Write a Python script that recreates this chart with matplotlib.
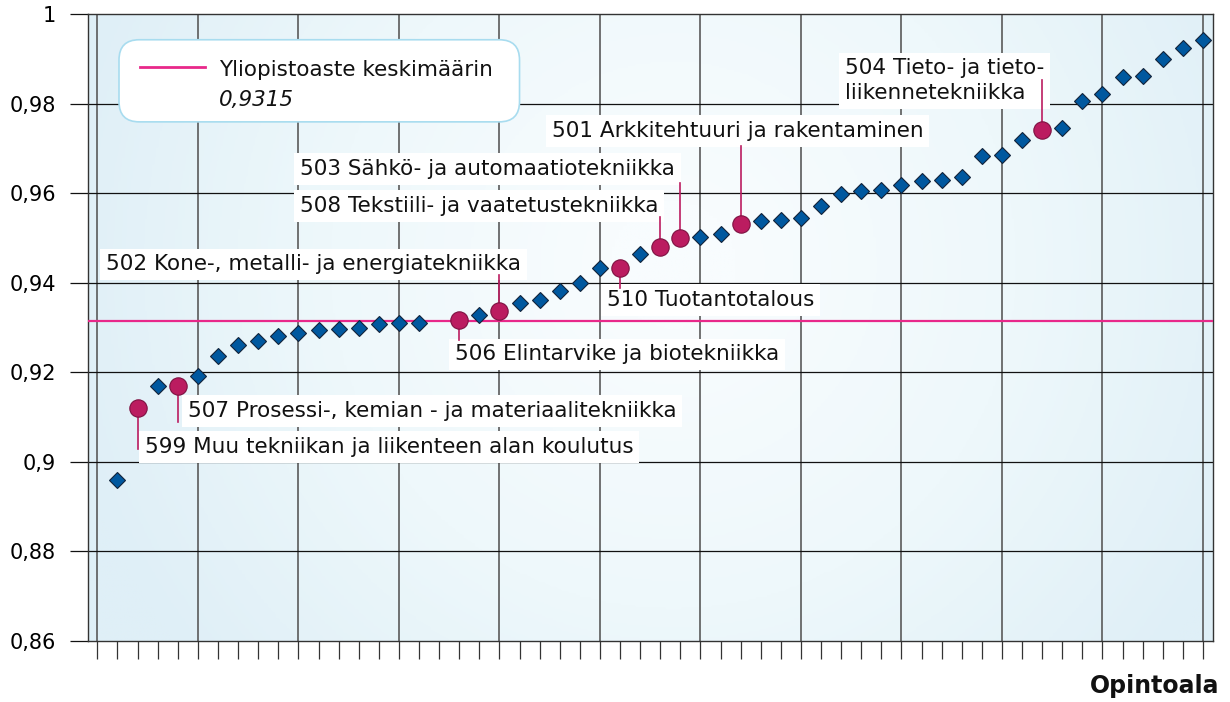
import numpy as np
import matplotlib
matplotlib.use("Agg")
import matplotlib.pyplot as plt
from matplotlib.patches import FancyBboxPatch
from matplotlib.lines import Line2D
from matplotlib.colors import LinearSegmentedColormap
from matplotlib.ticker import FuncFormatter

# Keskiarvot opintoaloittain (järjestetty), 17. paikka ilman arvoa
values = [0.896, 0.912, 0.917, 0.917, 0.9191, 0.9236, 0.926, 0.927, 0.9281, 0.9287,
          0.9294, 0.9297, 0.9298, 0.9307, 0.931, 0.9311, np.nan, 0.9317, 0.9328, 0.9336,
          0.9354, 0.9361, 0.9382, 0.9399, 0.9432, 0.9433, 0.9464, 0.948, 0.95, 0.9503,
          0.9508, 0.9532, 0.9537, 0.954, 0.9544, 0.9572, 0.9598, 0.9604, 0.9607, 0.9618,
          0.9628, 0.963, 0.9635, 0.9683, 0.9685, 0.9718, 0.9741, 0.9745, 0.9806, 0.9821,
          0.986, 0.9861, 0.9899, 0.9924, 0.9942]
mean_value = 0.9315
mean_label = "Yliopistoaste keskimäärin"

# Korostetut tekniikan alat (sijainti järjestyksessä)
hl_pos = [2, 4, 18, 20, 26, 28, 29, 32, 47]
hl_text = ["599 Muu tekniikan ja liikenteen alan koulutus",
           "507 Prosessi-, kemian - ja materiaalitekniikka",
           "506 Elintarvike ja biotekniikka",
           "502 Kone-, metalli- ja energiatekniikka",
           "510 Tuotantotalous",
           "508 Tekstiili- ja vaatetustekniikka",
           "503 Sähkö- ja automaatiotekniikka",
           "501 Arkkitehtuuri ja rakentaminen",
           "504 Tieto- ja tieto-\nliikennetekniikka"]
# tekstien paikat (x, y) ja johtoviivan loppupää
label_x = [2.36, 4.5, 17.8, 0.42, 25.35, 10.07, 10.07, 22.6, 37.2]
label_y = [0.9033, 0.9113, 0.924, 0.9441, 0.9361, 0.9571, 0.9654, 0.9739, 0.9851]
leader_end = [0.9028, 0.9088, 0.9272, 0.9417, 0.9388, 0.9546, 0.9622, 0.9705, 0.9853]

x = np.arange(1, len(values) + 1)
y = np.array(values)
is_hl = np.isin(x, hl_pos)

fig = plt.figure(figsize=(12.3, 7.02), dpi=100)
ax = fig.add_axes([0.0715, 0.087, 0.9147, 0.893])

# vaalea taustaliukuväri
gx, gy = np.meshgrid(np.linspace(0, 1, 300), np.linspace(0, 1, 300))
dist = np.sqrt(((gx - 0.52) * 1.8) ** 2 + (gy - 0.6) ** 2)
bg_cmap = LinearSegmentedColormap.from_list("bg", ["#f8fcfe", "#eef8fb", "#dfeff7"])
ax.imshow(dist, cmap=bg_cmap, extent=[0, 1, 0, 1], transform=ax.transAxes,
          aspect="auto", origin="lower", zorder=0, vmin=0.1, vmax=1.0)

ax.set_xlim(-0.47, 55.5)
ax.set_ylim(0.86, 1.0)

# ruudukko
ax.set_xticks(np.arange(0, 56, 1))
for gxv in np.arange(0, 56, 5):
    ax.axvline(gxv, color="#5a5a5a", lw=1.2, zorder=1)
for gyv in np.arange(0.88, 1.0, 0.02):
    ax.axhline(gyv, color="#111111", lw=0.9, zorder=1)

ax.axhline(mean_value, color="#e8288a", lw=1.6, zorder=3)

ax.plot(x[~is_hl], y[~is_hl], ls="none", marker="D", ms=8.5, mfc="#00589f",
        mec="#12233a", mew=0.8, zorder=5)
ax.plot(x[is_hl], y[is_hl], ls="none", marker="o", ms=12.5, mfc="#bb1c60",
        mec="#7d1141", mew=0.8, zorder=6)

for pos, txt, tx, ty, le in zip(hl_pos, hl_text, label_x, label_y, leader_end):
    ax.text(tx, ty, txt, fontsize=15.5, color="#111111", ha="left", va="center",
            linespacing=1.3,
            bbox=dict(boxstyle="square,pad=0.27", fc="white", ec="none"), zorder=4)
    ax.plot([pos, pos], [y[pos - 1], le], color="#bb1c60", lw=1.2, zorder=4.5)

# selite
legend_box = FancyBboxPatch((0.0276, 0.828), 0.356, 0.131,
                            boxstyle="round,pad=0,rounding_size=0.018",
                            transform=ax.transAxes, fc="white", ec="#a8dcef",
                            lw=1.2, zorder=7, mutation_aspect=1.8)
ax.add_patch(legend_box)
ax.add_line(Line2D([0.0462, 0.104], [0.9155, 0.9155], transform=ax.transAxes,
                   color="#e8288a", lw=2, zorder=8))
ax.text(0.1164, 0.9107, mean_label, transform=ax.transAxes, fontsize=15.5,
        va="center", ha="left", color="#111111", zorder=8)
ax.text(0.1164, 0.8628, f"{mean_value:.4f}".replace(".", ","), transform=ax.transAxes,
        fontsize=15.5, style="italic", va="center", ha="left", color="#111111", zorder=8)

# akselit
ax.set_yticks(np.arange(0.86, 1.001, 0.02))
ax.yaxis.set_major_formatter(FuncFormatter(lambda v, p: f"{round(v, 2):g}".replace(".", ",")))
ax.tick_params(axis="y", direction="out", length=13, width=0.9, color="#111111",
               labelsize=15, pad=10)
ax.tick_params(axis="x", direction="out", length=13, width=0.9, color="#333333",
               labelbottom=False)
for sp in ax.spines.values():
    sp.set_color("#333333")
    sp.set_linewidth(1.0)

fig.text(0.991, 0.006, "Opintoala", fontsize=17, fontweight="bold", ha="right",
         va="bottom", color="#111111")

fig.savefig("out.png", dpi=100)
